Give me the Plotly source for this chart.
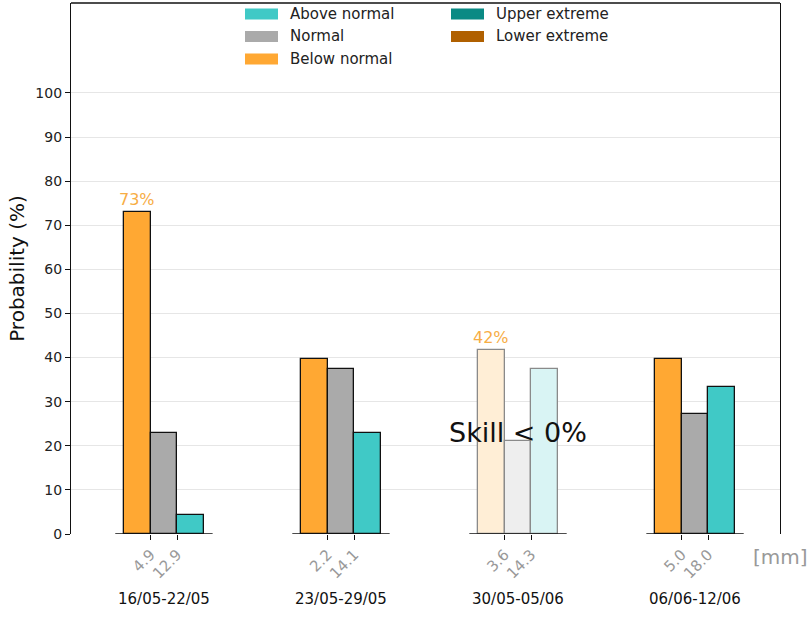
import plotly.graph_objects as go

# ---------------- data ----------------
periods = ["16/05-22/05", "23/05-29/05", "30/05-05/06", "06/06-12/06"]
below_normal = [73.0, 39.7, 41.8, 39.7]
normal = [23.0, 37.5, 21.0, 27.2]
above_normal = [4.2, 22.9, 37.4, 33.3]
lower_tercile_mm = ["4.9", "2.2", "3.6", "5.0"]
upper_tercile_mm = ["12.9", "14.1", "14.3", "18.0"]
skill_ok = [True, True, False, True]
max_labels = ["73%", "", "42%", ""]
skill_text = "Skill < 0%"
skill_text_y = 23
legend_labels_col1 = ["Above normal", "Normal", "Below normal"]
legend_labels_col2 = ["Upper extreme", "Lower extreme"]

# ---------------- styles ----------------
C_BELOW = "#ffa833"
C_NORMAL = "#aaaaaa"
C_ABOVE = "#40c9c6"
C_UPPER = "#0a8a84"
C_LOWER = "#b06000"
FADE = {C_BELOW: "#ffeed6", C_NORMAL: "#eeeeee", C_ABOVE: "#d9f4f4"}
BW = 0.15
FONT = "DejaVu Sans"

x = list(range(len(periods)))

fig = go.Figure()

def add_bars(vals, color, offset):
    fills = [color if ok else FADE[color] for ok in skill_ok]
    edges = ["#111111" if ok else "#8a8a8a" for ok in skill_ok]
    fig.add_trace(go.Bar(
        x=x, y=vals, width=BW, offset=offset,
        marker=dict(color=fills, line=dict(color=edges, width=1.3)),
        showlegend=False, hoverinfo="y",
    ))

add_bars(below_normal, C_BELOW, -1.5 * BW)
add_bars(normal, C_NORMAL, -0.5 * BW)
add_bars(above_normal, C_ABOVE, 0.5 * BW)

# max-probability labels
for i, lab in enumerate(max_labels):
    if lab:
        fig.add_annotation(x=i - BW, y=below_normal[i], text=lab, showarrow=False,
                           yanchor="bottom", yshift=1,
                           font=dict(family=FONT, size=16, color="#f7ad45"))

# skill text
for i, ok in enumerate(skill_ok):
    if not ok:
        fig.add_annotation(x=i, y=skill_text_y, text=skill_text, showarrow=False,
                           font=dict(family=FONT, size=27, color="#111111"))

# baseline segments under each group
for i in x:
    fig.add_shape(type="line", xref="x", yref="y", x0=i - 0.275, x1=i + 0.275,
                  y0=0, y1=0, line=dict(color="#111111", width=1.3))

# date labels
for i, p in enumerate(periods):
    fig.add_annotation(x=i, y=-0.122, xref="x", yref="paper", text=p, showarrow=False,
                       yanchor="middle", font=dict(family=FONT, size=15, color="#111111"))

# unit label
fig.add_annotation(x=1.0, y=-0.07, xref="paper", yref="paper", text="[mm]",
                   showarrow=False, xanchor="center",
                   font=dict(family=FONT, size=20, color="#999999"))

# top frame line
fig.add_shape(type="line", xref="paper", yref="paper", x0=0, x1=1, y0=1, y1=1,
              line=dict(color="#111111", width=1.3))

# manual legend
def legend_entry(px, py, color, label):
    fig.add_shape(type="rect", xref="paper", yref="paper",
                  x0=px, x1=px + 33 / 709, y0=py - 5.5 / 531, y1=py + 5.5 / 531,
                  fillcolor=color, line=dict(width=0))
    fig.add_annotation(xref="paper", yref="paper", x=px + 43 / 709, y=py, text=label,
                       showarrow=False, xanchor="left", yanchor="middle",
                       font=dict(family=FONT, size=15, color="#222222"))

col1_colors = [C_ABOVE, C_NORMAL, C_BELOW]
col2_colors = [C_UPPER, C_LOWER]
for k, (lab, col) in enumerate(zip(legend_labels_col1, col1_colors)):
    legend_entry((245 - 71) / 709, 1 - (14 + 22.5 * k - 3) / 531, col, lab)
for k, (lab, col) in enumerate(zip(legend_labels_col2, col2_colors)):
    legend_entry((451 - 71) / 709, 1 - (14 + 22.5 * k - 3) / 531, col, lab)

tickvals = []
ticktext = []
for i in x:
    tickvals += [i - 0.5 * BW, i + 0.5 * BW]
    ticktext += [lower_tercile_mm[i], upper_tercile_mm[i]]

fig.update_layout(
    width=811, height=636,
    margin=dict(l=71, r=31, t=3, b=102, autoexpand=False),
    plot_bgcolor="white", paper_bgcolor="white",
    bargap=0, barmode="overlay",
    font=dict(family=FONT, size=14, color="#222222"),
    xaxis=dict(range=[-0.525, 3.48], tickmode="array", tickvals=tickvals, ticktext=ticktext,
               tickangle=-45, ticks="outside", ticklen=5, tickcolor="#111111", tickwidth=1,
               tickfont=dict(family=FONT, size=15, color="#999999"),
               showline=False, showgrid=False, zeroline=False, automargin=False),
    yaxis=dict(range=[0, 120.4], tickmode="array", tickvals=list(range(0, 101, 10)),
               ticks="outside", ticklen=5, tickcolor="#111111", tickwidth=1,
               tickfont=dict(family=FONT, size=14, color="#222222"),
               showline=True, linecolor="#111111", linewidth=1.3, mirror=True,
               showgrid=True, gridcolor="#e6e6e6", gridwidth=1, zeroline=False,
               automargin=False,
               title=dict(text="Probability (%)", font=dict(family=FONT, size=20, color="#111111"),
                          standoff=5)),
)

fig.write_html("out.html", config={"displayModeBar": False},
               post_script="document.body.style.margin='0';")
